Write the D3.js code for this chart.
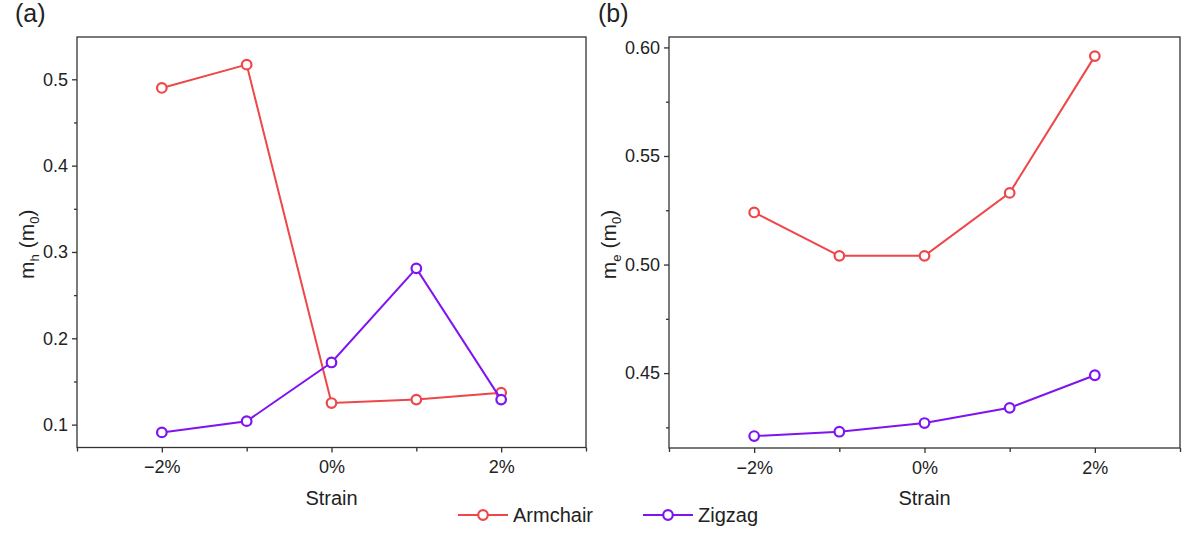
<!DOCTYPE html>
<html>
<head>
<meta charset="utf-8">
<style>
  body { margin: 0; background: white; }
  svg text { font-family: "Liberation Sans", Arial, sans-serif; fill: #222; }
  .frame { fill: none; stroke: #333; stroke-width: 1.3px; }
  .axis path, .axis line { stroke: #333; stroke-width: 1.3px; }
  .axis text { font-size: 18px; fill: #222; font-family: "Liberation Sans", Arial, sans-serif; }
</style>
</head>
<body>
<svg width="1188" height="533"></svg>
<script src="https://cdn.jsdelivr.net/npm/d3@7"></script>
<script>
// data
var strain = [-2, -1, 0, 1, 2];
var xTickLabels = ["\u22122%", "0%", "2%"];
var seriesNames = ["Armchair", "Zigzag"];
var colors = ["#ee4649", "#7f14f2"];

var holeArmchair = [0.490, 0.517, 0.125, 0.129, 0.137];
var holeZigzag   = [0.091, 0.104, 0.172, 0.281, 0.129];

var elecArmchair = [0.524, 0.504, 0.504, 0.533, 0.596];
var elecZigzag   = [0.421, 0.423, 0.427, 0.434, 0.449];

var svg = d3.select("svg");

var panels = [
  { left: 77, right: 586, top: 37, bottom: 447.5, tag: "(a)", tagX: 15,
    yDomain: [0.0735, 0.549], yMajor: [0.1, 0.2, 0.3, 0.4, 0.5], yMinorStep: 0.05,
    yFmt: d3.format(".1f"), ySub: "h", series: [holeArmchair, holeZigzag], yTitleX: 34 },
  { left: 669, right: 1180, top: 37, bottom: 448, tag: "(b)", tagX: 598,
    yDomain: [0.4155, 0.6048], yMajor: [0.45, 0.50, 0.55, 0.60], yMinorStep: 0.025,
    yFmt: d3.format(".2f"), ySub: "e", series: [elecArmchair, elecZigzag], yTitleX: 616 }
];

panels.forEach(function(p) {
  var g = svg.append("g");

  var x = d3.scaleLinear().domain([-3, 3]).range([p.left, p.right]);
  var y = d3.scaleLinear().domain(p.yDomain).range([p.bottom, p.top]);

  // minor ticks
  var yMinor = d3.range(Math.ceil(p.yDomain[0] / p.yMinorStep) * p.yMinorStep, p.yDomain[1], p.yMinorStep)
    .filter(function(v) { return !p.yMajor.some(function(m) { return Math.abs(m - v) < 1e-6; }); });

  g.append("g").attr("class", "axis")
    .attr("transform", "translate(" + p.left + ",0)")
    .call(d3.axisLeft(y).tickValues(yMinor).tickSize(3).tickFormat(""))
    .select(".domain").remove();

  g.append("g").attr("class", "axis")
    .attr("transform", "translate(" + p.left + ",0)")
    .call(d3.axisLeft(y).tickValues(p.yMajor).tickSize(5).tickPadding(4).tickFormat(p.yFmt))
    .select(".domain").remove();

  g.append("g").attr("class", "axis")
    .attr("transform", "translate(0," + p.bottom + ")")
    .call(d3.axisBottom(x).tickValues([-3, -1, 1, 3]).tickSize(4).tickFormat(""))
    .select(".domain").remove();

  g.append("g").attr("class", "axis")
    .attr("transform", "translate(0," + p.bottom + ")")
    .call(d3.axisBottom(x).tickValues([-2, 0, 2]).tickSize(5).tickPadding(8)
      .tickFormat(function(d, i) { return xTickLabels[i]; }))
    .select(".domain").remove();

  g.append("rect").attr("class", "frame")
    .attr("x", p.left).attr("y", p.top)
    .attr("width", p.right - p.left).attr("height", p.bottom - p.top);

  // lines and markers
  p.series.forEach(function(vals, si) {
    var pts = strain.map(function(s, i) { return [s, vals[i]]; });
    var line = d3.line().x(function(d) { return x(d[0]); }).y(function(d) { return y(d[1]); });
    g.append("path").datum(pts)
      .attr("d", line)
      .attr("fill", "none")
      .attr("stroke", colors[si])
      .attr("stroke-width", 2);
    g.selectAll(".pt" + si).data(pts).enter().append("circle")
      .attr("cx", function(d) { return x(d[0]); })
      .attr("cy", function(d) { return y(d[1]); })
      .attr("r", 4.8)
      .attr("fill", "white")
      .attr("stroke", colors[si])
      .attr("stroke-width", 2.2);
  });

  // axis titles
  g.append("text")
    .attr("x", (p.left + p.right) / 2).attr("y", 505)
    .attr("text-anchor", "middle")
    .style("font-size", "20px")
    .text("Strain");

  var yt = g.append("text")
    .attr("transform", "translate(" + p.yTitleX + "," + ((p.top + p.bottom) / 2 + 2) + ") rotate(-90)")
    .attr("text-anchor", "middle")
    .style("font-size", "21px");
  yt.append("tspan").text("m");
  yt.append("tspan").attr("dy", 5).style("font-size", "13px").text(p.ySub);
  yt.append("tspan").attr("dy", -5).text(" (m");
  yt.append("tspan").attr("dy", 5).style("font-size", "13px").text("0");
  yt.append("tspan").attr("dy", -5).text(")");

  g.append("text")
    .attr("x", p.tagX).attr("y", 22)
    .style("font-size", "25px")
    .text(p.tag);
});

// legend
var legendX = [458, 643];
seriesNames.forEach(function(name, i) {
  var lg = svg.append("g").attr("transform", "translate(" + legendX[i] + ",515)");
  lg.append("line").attr("x1", 0).attr("x2", 50).attr("y1", 0).attr("y2", 0)
    .attr("stroke", colors[i]).attr("stroke-width", 2);
  lg.append("circle").attr("cx", 25).attr("cy", 0).attr("r", 4.8)
    .attr("fill", "white").attr("stroke", colors[i]).attr("stroke-width", 2.2);
  lg.append("text").attr("x", 55).attr("y", 7)
    .style("font-size", "20px")
    .text(name);
});
</script>
</body>
</html>
